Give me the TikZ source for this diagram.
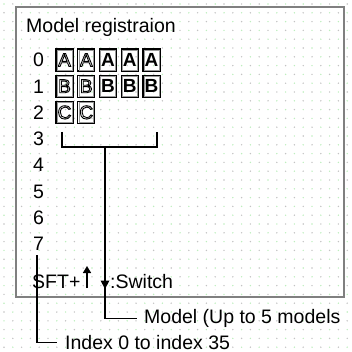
\documentclass[tikz,border=0pt]{standalone}
\usepackage{fontspec}
\setmainfont{Liberation Sans}
\usetikzlibrary{arrows.meta}
\definecolor{dotgreen}{RGB}{190,238,190}
\definecolor{dotgray}{RGB}{195,195,195}
\definecolor{frame}{RGB}{128,128,128}
% outlined (stroked, unfilled) glyphs
\newcommand\strokedtext[1]{\special{pdf:literal direct 1 Tr 0.9 w}#1\special{pdf:literal direct 0 Tr}}
\begin{document}
\begin{tikzpicture}[x=1pt,y=-1pt,
  txt/.style={inner sep=0pt, font=\fontsize{19.5}{22}\selectfont},
  cell/.style={draw=black, line width=1.3pt, minimum width=17pt, minimum height=22pt,
    inner sep=0pt, font=\fontsize{19}{20}\selectfont},
  inner/.style={draw=black!40, line width=0.5pt},
  hollow/.style={cell},
  solid/.style={cell, font=\fontsize{19}{20}\selectfont\bfseries},
  wire/.style={draw=black, line width=1.3pt},
]
\useasboundingbox (0,0) rectangle (351,352);

% dotted grid paper
\foreach \i in {0,...,39}{
  \foreach \j in {0,...,39}{
    \pgfmathtruncatemacro\p{mod(\i+\j,2)}
    \ifnum\p=0
      \fill[dotgreen] (4+8.8*\i,4+8.8*\j) circle (0.8);
    \else
      \fill[dotgray] (4+8.8*\i,4+8.8*\j) circle (0.8);
    \fi
  }
}

% screen frame
\draw[frame, line width=1.6pt] (16,7) rectangle (344,297);

% title
\node[txt, anchor=base west] (title) at (26,33) {Model registraion};

% index column
\foreach \k in {0,...,7}{
  \node[txt, anchor=base] (idx\k) at (38.5,67+26.2*\k) {\k};
}

% registered models: outlined letters
\foreach \c/\row/\y in {A/0/60, B/1/86.2, C/2/112.4}{
  \foreach \m in {0,1}{
    \node[hollow] (m\row\m) at (64.5+21.75*\m,\y) {\strokedtext{\c}};
  }
}
% registered models: solid letters
\foreach \c/\row/\y in {A/0/60, B/1/86.2}{
  \foreach \m in {2,3,4}{
    \node[solid] (m\row\m) at (64.5+21.75*\m,\y) {\c};
  }
}
% inner rule of each cell
\foreach \n in {m00,m01,m02,m03,m04,m10,m11,m12,m13,m14,m20,m21}{
  \draw[inner] ([shift={(1.7pt,1.7pt)}]\n.south west) rectangle ([shift={(-1.7pt,-1.7pt)}]\n.north east);
}

% bracket over the five model columns
\coordinate (bl) at (62,132);
\coordinate (br) at (157,132);
\coordinate (bm) at (105,147);
\draw[wire] (bl) |- (bm) -| (br);

% key hint line
\node[txt, anchor=base west] (sft) at (32,288) {SFT+};
\node[txt, anchor=base west] (sw) at (110,288) {:Switch};
\coordinate (upb) at (87,288);
\coordinate (upt) at (87,266);
\draw[line width=1.6pt, -{Triangle[width=8pt,length=7pt]}] (upb) -- (upt);
\coordinate (dnt) at (105,289);
\fill[black] (100.5,280.5) -- (109.5,280.5) -- (dnt) -- cycle;

% callouts
\node[txt, anchor=base west] (model) at (144,323.5) {Model (Up to 5 models};
\node[txt, anchor=base west] (index) at (65,349) {Index 0 to index 35};
\coordinate (idxtop) at (37,255);
\draw[wire] (bm) |- (model.west -| 137,0);
\draw[wire] (idxtop) |- (57,342.5);
\end{tikzpicture}
\end{document}
